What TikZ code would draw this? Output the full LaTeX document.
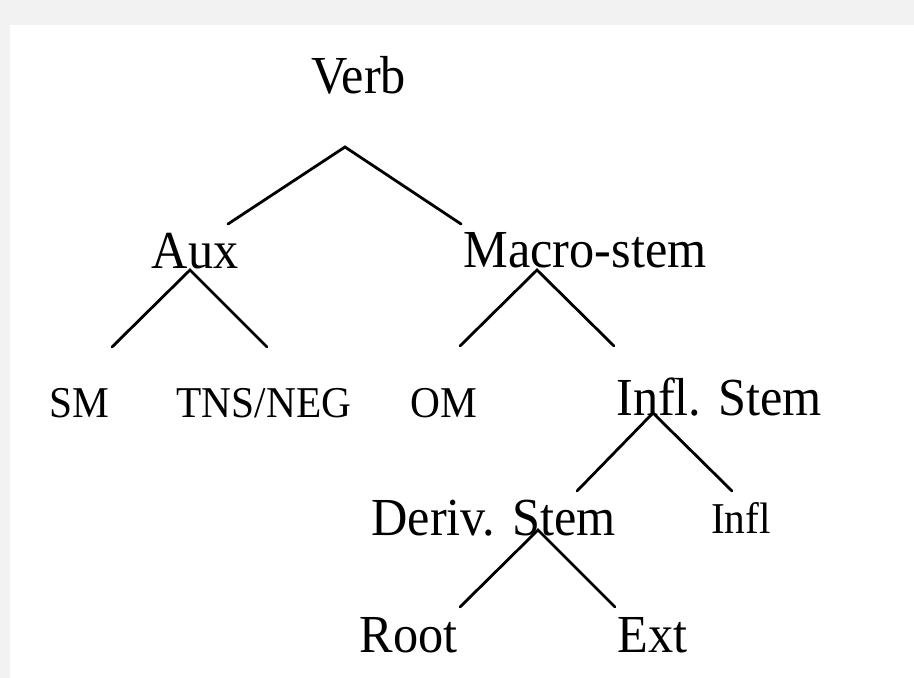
\documentclass[tikz,border=0pt]{standalone}
\usepackage{fontspec}
\setmainfont{Liberation Serif}[FakeStretch=0.94]
\begin{document}
\begin{tikzpicture}[x=1pt,y=-1pt,
  big/.style={inner sep=0pt,anchor=base,font=\fontsize{53.5}{60}\selectfont},
  small/.style={inner sep=0pt,anchor=base,font=\fontsize{44}{50}\selectfont},
  branch/.style={line width=2.8pt,line cap=round,line join=miter}]
  % page: grey frame with white sheet
  \fill[gray!10] (0,0) rectangle (914,678);
  \fill[white] (10,25) rectangle (914,678);
  \useasboundingbox (0,0) rectangle (914,678);

  % labels
  \node[big]   (verb)  at (358.5,93)  {Verb};
  \node[big]   (aux)   at (195,268)   {Aux};
  \node[big]   (macro) at (585,267)   {Macro-stem};
  \node[small] (sm)    at (79,417)    {SM};
  \node[small] (tns)   at (264,417)   {TNS/NEG};
  \node[small] (om)    at (443.5,417) {OM};
  \node[big]   (infls) at (719,415)   {Infl. Stem};
  \node[big]   (deriv) at (493.5,535) {Deriv. Stem};
  \node[small] (infl)  at (741,533)   {Infl};
  \node[big]   (root)  at (408.5,652) {Root};
  \node[big]   (ext)   at (652.5,652) {Ext};

  % branch points and branch ends
  \coordinate (verbTop) at (345,147);
  \coordinate (verbL)   at (228,224);
  \coordinate (verbR)   at (461,224);
  \coordinate (auxTop)  at (190,270);
  \coordinate (auxL)    at (112,347);
  \coordinate (auxR)    at (267,347);
  \coordinate (macTop)  at (537,270);
  \coordinate (macL)    at (460,346);
  \coordinate (macR)    at (614,346);
  \coordinate (infTop)  at (653,413);
  \coordinate (infL)    at (577,491);
  \coordinate (infR)    at (732,491);
  \coordinate (derTop)  at (538,530);
  \coordinate (derL)    at (460,607);
  \coordinate (derR)    at (615,607);

  % branches
  \draw[branch] (verbL) -- (verbTop) -- (verbR);
  \draw[branch] (auxL)  -- (auxTop)  -- (auxR);
  \draw[branch] (macL)  -- (macTop)  -- (macR);
  \draw[branch] (infL)  -- (infTop)  -- (infR);
  \draw[branch] (derL)  -- (derTop)  -- (derR);
\end{tikzpicture}
\end{document}
